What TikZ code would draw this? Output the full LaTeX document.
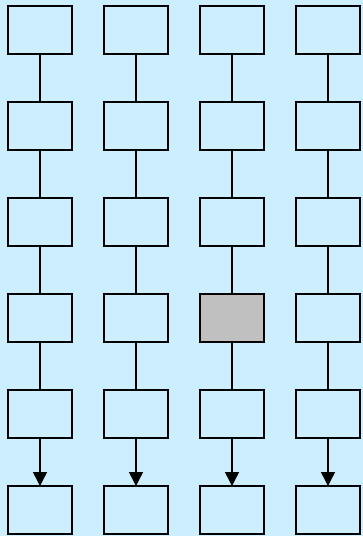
\documentclass[tikz,border=0pt]{standalone}
\usetikzlibrary{arrows.meta}
\definecolor{bg}{HTML}{CCEEFF}
\definecolor{hl}{HTML}{C0C0C0}
\tikzset{
  box/.style={draw=black, line width=1.5pt, fill=bg, minimum width=64pt, minimum height=48pt, inner sep=0pt, outer sep=0pt},
  grey/.style={box, fill=hl},
  link/.style={draw=black, line width=1.5pt},
  arr/.style={link, -{Triangle[length=14pt,width=14pt]}}
}
\begin{document}
\begin{tikzpicture}[x=1pt,y=-1pt]
\fill[bg] (0,0) rectangle (363,536);
\useasboundingbox (0,0) rectangle (363,536);
\foreach \c in {1,...,4}{
  \foreach \r in {1,...,6}{
    \ifnum\c=3 \ifnum\r=4
      \node[grey] (n\c-\r) at ({40+96*(\c-1)},{30+96*(\r-1)}) {};
    \else
      \node[box] (n\c-\r) at ({40+96*(\c-1)},{30+96*(\r-1)}) {};
    \fi\else
      \node[box] (n\c-\r) at ({40+96*(\c-1)},{30+96*(\r-1)}) {};
    \fi
  }
  \foreach \r/\s in {1/2,2/3,3/4,4/5}{
    \draw[link] (n\c-\r.south) -- (n\c-\s.north);
  }
  \draw[arr] (n\c-5.south) -- (n\c-6.north);
}
\end{tikzpicture}
\end{document}
